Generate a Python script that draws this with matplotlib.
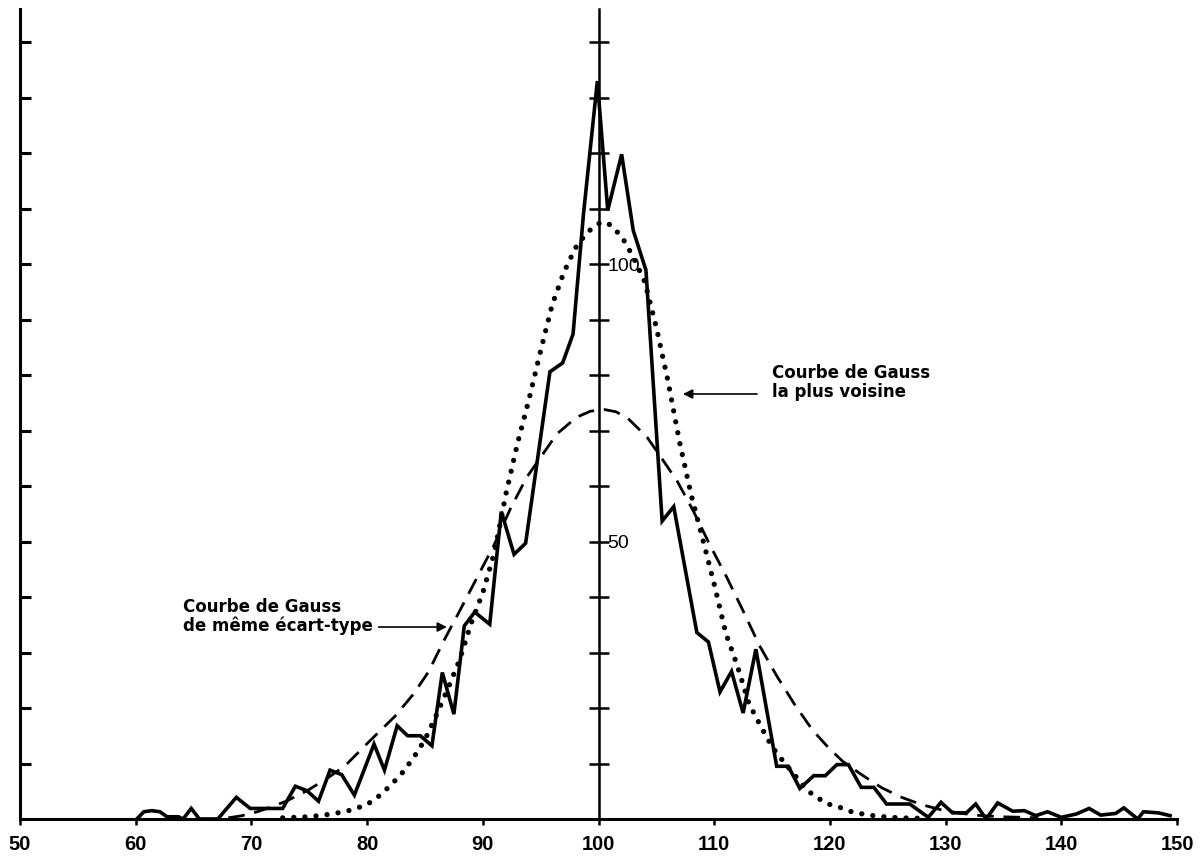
import matplotlib
matplotlib.use('Agg')
import matplotlib.pyplot as plt

obs_x = [60.1, 60.7, 61.4, 62.1, 62.7, 63.7, 64.1, 64.8, 65.5, 67.1, 68.7, 69.9,
         72.7, 73.8, 74.8, 75.8, 76.8, 77.8, 78.9, 80.6, 81.5, 82.6, 83.5, 84.6,
         85.6, 86.5, 87.5, 88.4, 89.3, 90.6, 91.6, 92.7, 93.7, 95.8, 96.9, 97.8,
         98.7, 99.9, 100.8, 102.0, 103.0, 104.1, 105.5, 106.5, 108.5, 109.5, 110.5,
         111.5, 112.5, 113.6, 115.4, 116.4, 117.4, 118.6, 119.6, 120.6, 121.6, 122.7,
         123.8, 124.9, 126.9, 128.5, 129.6, 130.6, 131.8, 132.6, 133.5, 134.5, 135.8,
         136.8, 137.8, 138.8, 140.0, 141.3, 142.4, 143.4, 144.7, 145.4, 146.6, 147.1,
         148.4, 149.4]
obs_y = [0, 1.3, 1.5, 1.3, 0.4, 0.4, 0, 1.9, 0, 0, 3.9, 1.9,
         1.9, 5.9, 5.1, 3.2, 8.8, 8.0, 4.3, 13.5, 8.8, 16.8, 15.0, 15.0,
         13.2, 26.4, 18.9, 34.8, 37.3, 35.1, 55.4, 47.7, 49.7, 80.6, 82.2, 87.4,
         109.0, 133.0, 109.7, 119.8, 106.1, 98.9, 53.7, 56.3, 33.6, 31.9, 22.9,
         26.6, 19.1, 30.6, 9.5, 9.5, 5.5, 7.8, 7.8, 9.8, 9.8, 5.7,
         5.7, 2.7, 2.7, 0.3, 3.0, 1.1, 1.1, 2.7, 0.0, 2.9, 1.4,
         1.5, 0.6, 1.3, 0.3, 0.9, 1.9, 0.7, 1.0, 2.0, 0.0, 1.3,
         1.1, 0.6]

# "Courbe de Gauss la plus voisine" (dotted)
fit_x = [72.7, 75, 77, 78.6, 80, 81, 82, 83, 84, 85, 86, 87, 88, 89, 90, 91, 92,
         93, 94, 95, 96, 97, 98, 99, 100, 100.5, 101, 102, 103, 104, 105, 106, 107,
         108, 109, 110, 111, 112, 113, 114, 115, 116, 117, 118, 119, 120, 121, 122,
         123, 124, 126, 128.5]
fit_y = [0.2, 0.4, 0.9, 1.6, 2.6, 4.1, 6.0, 8.2, 11.0, 14.3, 18.8, 23.6, 28.7, 35.3,
         40.8, 48.0, 58.6, 67.7, 75.7, 84.4, 92.7, 98.5, 102.9, 105.7, 107.3, 107.6,
         107.1, 105.0, 101.3, 96.8, 88.6, 79.0, 68.0, 58.5, 50.5, 42.3, 33.5, 27.6,
         20.8, 16.8, 13.0, 10.3, 7.8, 5.2, 3.7, 2.6, 2.0, 1.2, 0.85, 0.5, 0.2, 0.1]

# "Courbe de Gauss de meme ecart-type" (dashed)
std_x = [68.0, 69.2, 70.5, 71.5, 73.0, 74.9, 76.6, 78.1, 80.2, 82.4, 84.0, 85.3,
         86.6, 88.0, 89.5, 91.0, 92.4, 93.8, 95.0, 96.4, 98.1, 99.3, 100.5, 101.5,
         102.5, 104.2, 105.3, 106.8, 108.2, 109.6, 111.1, 112.5, 113.9, 115.4, 116.9,
         118.5, 119.9, 121.1, 122.8, 124.5, 126.2, 127.9, 129.7, 131.4, 133.1, 134.8,
         136.6, 138.0]
std_y = [0.2, 0.6, 1.3, 2.0, 3.2, 5.2, 7.4, 9.6, 14.0, 18.5, 22.5, 26.5,
         32.0, 37.5, 43.5, 49.5, 56.0, 61.6, 65.2, 69.4, 72.4, 73.5, 73.8, 73.4,
         72.3, 68.8, 65.5, 60.9, 55.5, 49.5, 43.5, 37.5, 31.3, 25.8, 20.8,
         16.0, 12.8, 10.4, 7.9, 5.6, 3.9, 2.6, 1.6, 1.0, 0.6, 0.4,
         0.3, 0.2]

x_ticks = [50, 60, 70, 80, 90, 100, 110, 120, 130, 140, 150]
y_ticks = [10, 20, 30, 40, 50, 60, 70, 80, 90, 100, 110, 120, 130, 140]
center_labels = {50: '50', 100: '100'}

fig = plt.figure(figsize=(12.04, 8.61), dpi=100)
ax = fig.add_axes([0.0166, 0.0488, 0.9610, 0.9408])

ax.plot(fit_x, fit_y, color='black', lw=3.8, linestyle=(0, (0.01, 2.1)),
        dash_capstyle='round')
ax.plot(std_x, std_y, color='black', lw=2.0, linestyle=(0, (6, 3.5)))
ax.plot(obs_x, obs_y, color='black', lw=2.6, solid_joinstyle='miter')

ax.set_xlim(50, 150)
ax.set_ylim(0, 146)
for s in ['top', 'right']:
    ax.spines[s].set_visible(False)
ax.spines['left'].set_linewidth(2.2)
ax.spines['bottom'].set_linewidth(2.2)

ax.set_xticks(x_ticks)
ax.set_yticks(y_ticks, labels=[])
ax.tick_params(axis='y', direction='in', length=8, width=2.2)
ax.tick_params(axis='x', direction='out', length=4.5, width=1.8, pad=7,
               labelsize=14.5, labelfontfamily='Liberation Sans')
for lab in ax.get_xticklabels():
    lab.set_fontweight('bold')

# central axis at x = 100
sec = ax.secondary_yaxis(0.5)
sec.set_yticks(y_ticks, labels=[center_labels.get(v, '') for v in y_ticks])
for s in ['left', 'right']:
    sec.spines[s].set_linewidth(1.8)
sec.tick_params(direction='inout', length=15, width=1.8, pad=-1,
                labelsize=14, labelfontfamily='Liberation Sans')

# labels
txt = dict(fontsize=12, fontweight='bold', color='black', va='baseline')
arrow = dict(arrowstyle='-|>', color='black', lw=1.2, mutation_scale=14,
             shrinkA=0, shrinkB=0)

ax.text(115.0, 79.5, 'Courbe de Gauss', **txt)
ax.text(115.0, 76.0, 'la plus voisine', **txt)
ax.annotate('', xy=(107.3, 76.6), xytext=(113.7, 76.6), arrowprops=arrow)

ax.text(64.1, 37.3, 'Courbe de Gauss', **txt)
ax.text(64.1, 33.9, 'de même écart-type', **txt)
ax.annotate('', xy=(86.9, 34.6), xytext=(81.0, 34.6), arrowprops=arrow)

fig.savefig('out.png', dpi=100)
